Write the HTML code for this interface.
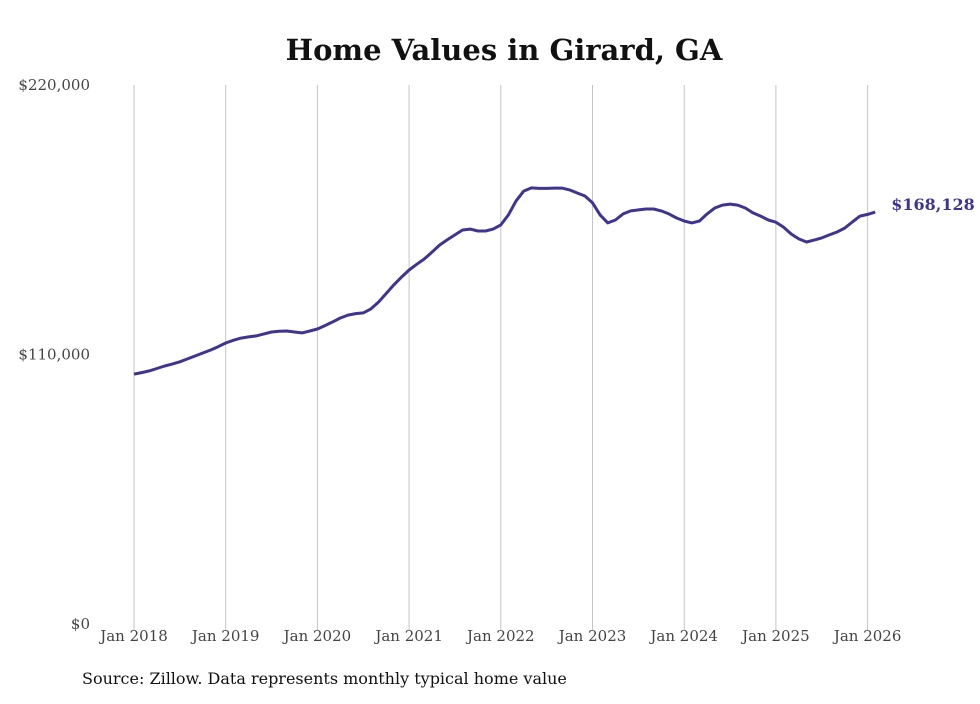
<!DOCTYPE html>
<html><head><meta charset="utf-8"><style>
body{margin:0;background:#fff;}
svg text{font-family:"DejaVu Serif","Liberation Serif",serif;}
</style></head><body>
<svg id="chart" width="980" height="699" viewBox="0 0 980 699" xmlns="http://www.w3.org/2000/svg">
<text x="504" y="60" text-anchor="middle" font-size="29" font-weight="bold" fill="#111">Home Values in Girard, GA</text>
<g id="grid"></g>
<g id="yaxis"></g>
<g id="xaxis"></g>
<path id="line" fill="none" stroke="#3f3590" stroke-width="3" stroke-linejoin="round"/>
<text id="endlabel" font-size="16" font-weight="bold" fill="#3f3590"></text>
<text x="82" y="684" font-size="16" fill="#111">Source: Zillow. Data represents monthly typical home value</text>
</svg>
<script>
const yTicks=[0,110000,220000];
const yTickLabels=["$0","$110,000","$220,000"];
const xTickYears=[2018,2019,2020,2021,2022,2023,2024,2025,2026];
const startYear=2018;
const values=[102.0,102.6,103.3,104.3,105.3,106.1,107.0,108.2,109.4,110.6,111.8,113.2,114.7,115.8,116.7,117.2,117.6,118.4,119.2,119.5,119.6,119.2,118.8,119.6,120.4,121.8,123.3,124.9,126.1,126.7,127.0,128.6,131.4,134.9,138.4,141.6,144.5,146.8,149.0,151.8,154.7,156.8,158.8,160.8,161.2,160.4,160.4,161.2,162.9,167.0,172.7,176.7,178.0,177.8,177.8,177.9,177.9,177.2,175.9,174.7,171.9,167.0,163.7,164.9,167.4,168.6,169.0,169.4,169.4,168.6,167.4,165.7,164.5,163.7,164.5,167.4,169.8,171.0,171.4,171.0,169.8,167.8,166.5,164.9,164.0,162.0,159.2,157.2,155.9,156.7,157.6,158.8,160.0,161.6,164.1,166.5,167.2,168.128].map(v=>v*1000);
const X0=134, PX_PER_YEAR=91.7, Y0=624, Y1=85, VMAX=220000;
const ns="http://www.w3.org/2000/svg";
const xs=i=>X0+i/12*PX_PER_YEAR;
const ys=v=>Y0-v/VMAX*(Y0-Y1);
const grid=document.getElementById('grid'), xa=document.getElementById('xaxis'), ya=document.getElementById('yaxis');
xTickYears.forEach((yr,k)=>{
  const x=xs((yr-startYear)*12);
  const l=document.createElementNS(ns,'line');
  
  
  l.setAttribute('x1',x);l.setAttribute('x2',x);l.setAttribute('y1',Y1);l.setAttribute('y2',Y0+6);
  l.setAttribute('stroke','#c4c4c4');l.setAttribute('stroke-width','1');
  grid.appendChild(l);
  const t=document.createElementNS(ns,'text');
  
  
  t.setAttribute('x',x);t.setAttribute('y',641);t.setAttribute('text-anchor','middle');
  t.setAttribute('font-size','15');t.setAttribute('fill','#444');
  t.textContent='Jan '+yr;xa.appendChild(t);
});
yTicks.forEach((v,k)=>{
  const t=document.createElementNS(ns,'text');
  
  
  t.setAttribute('x',90);t.setAttribute('y',ys(v)+5);t.setAttribute('text-anchor','end');
  t.setAttribute('font-size','15');t.setAttribute('fill','#444');
  t.textContent=yTickLabels[k];ya.appendChild(t);
});
document.getElementById('line').setAttribute('d',values.map((v,i)=>(i?'L':'M')+xs(i).toFixed(1)+','+ys(v).toFixed(1)).join(''));
const last=values.length-1, el=document.getElementById('endlabel');
el.setAttribute('x',xs(last)+16);el.setAttribute('y',ys(values[last])-2);
el.textContent='$'+values[last].toLocaleString('en-US');
</script>
</body></html>
